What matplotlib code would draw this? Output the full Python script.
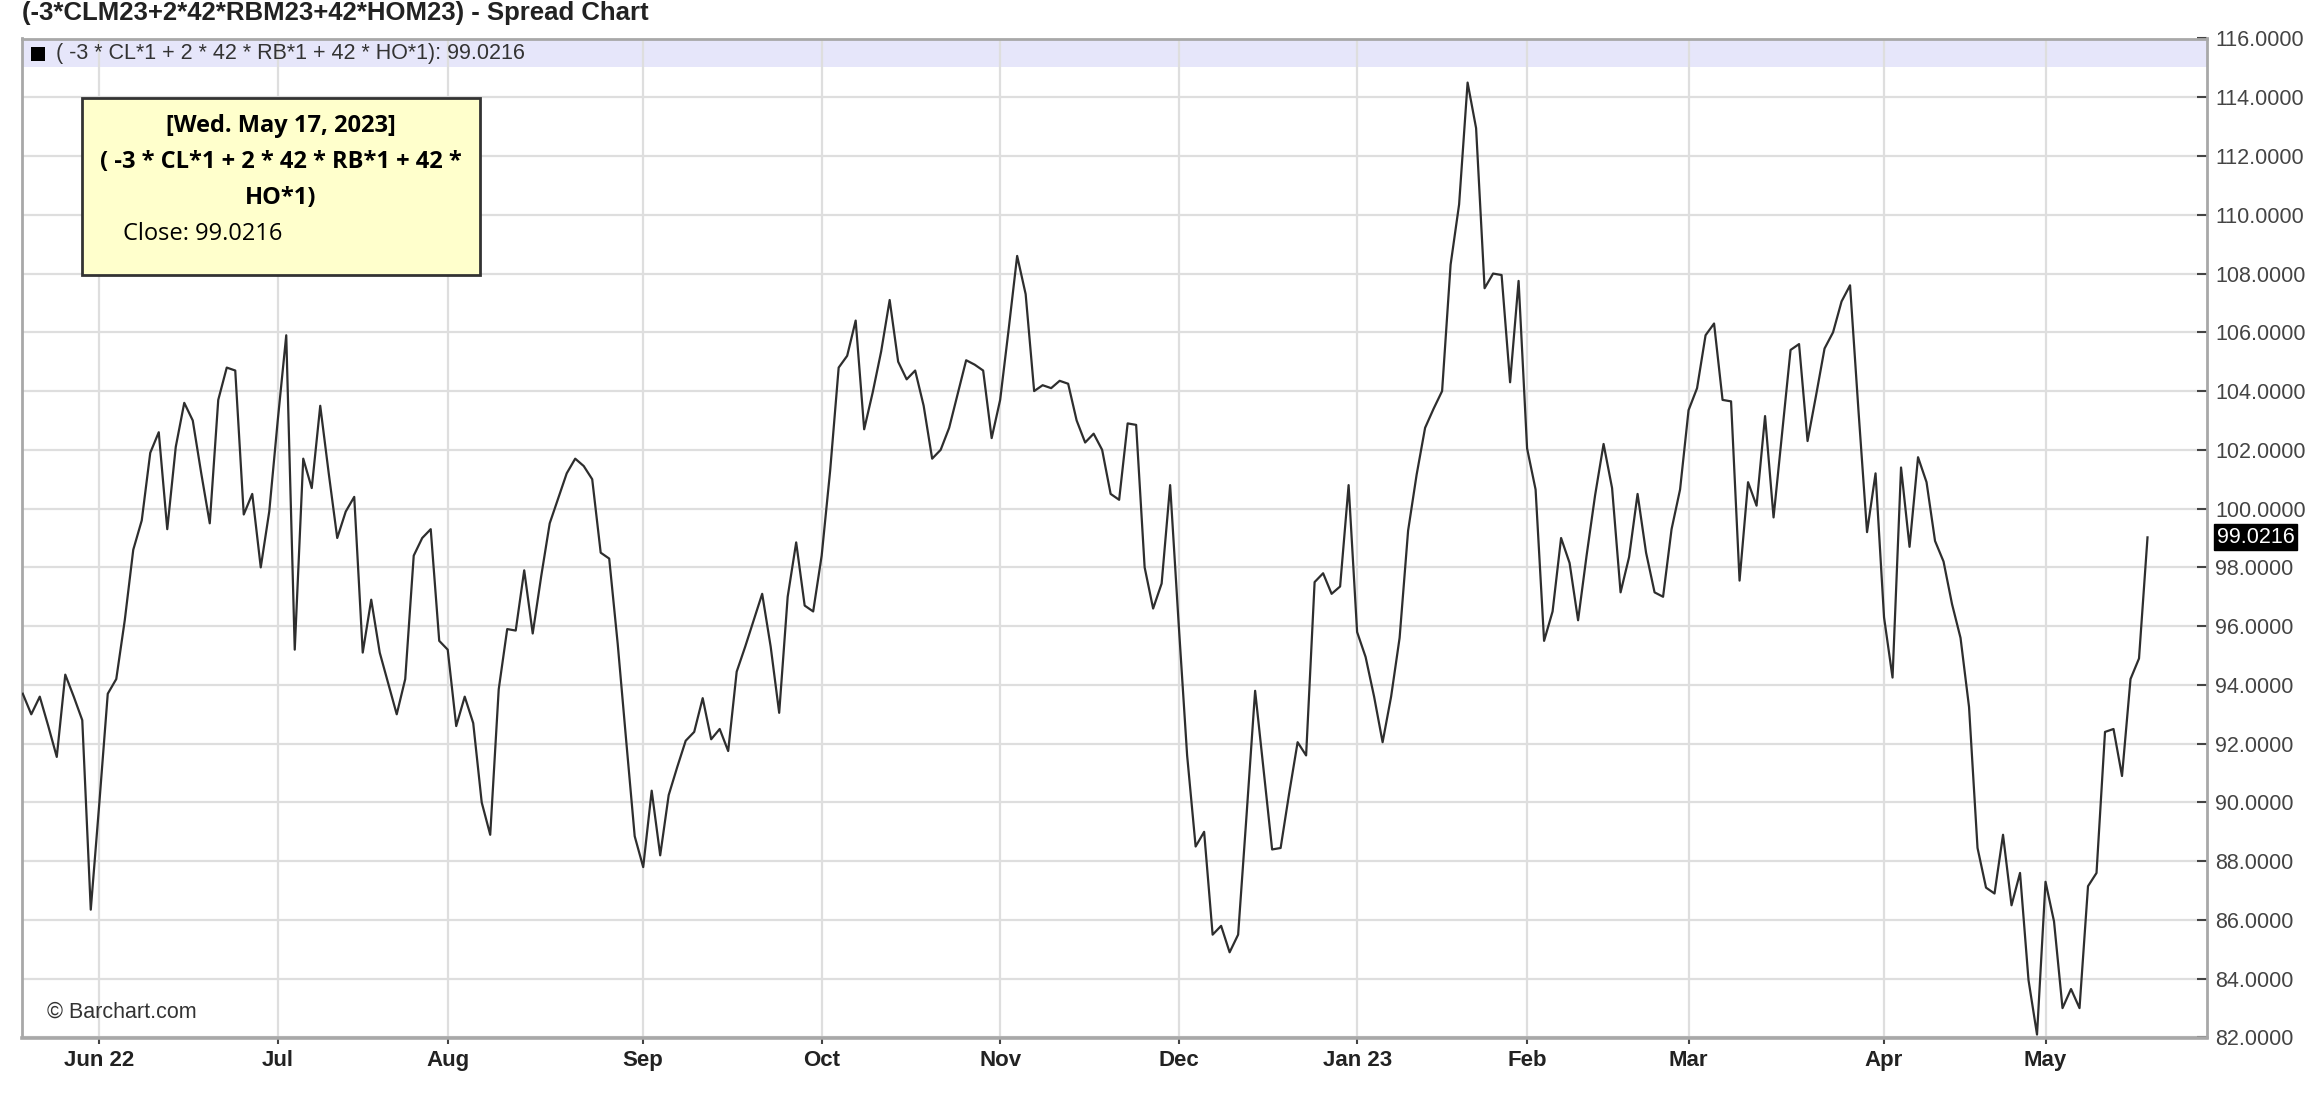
import numpy as np
import pandas as pd
import matplotlib
matplotlib.use("Agg")
import matplotlib.pyplot as plt
from matplotlib.patches import Rectangle
import matplotlib.transforms as mtransforms

plt.rcParams['font.family'] = ['Liberation Sans', 'DejaVu Sans']

# daily closes of the spread, one list per month
may22 = [93.7, 93.0, 93.6, 92.6, 91.55, 94.35, 93.6, 92.8, 86.35]
jun22 = [89.95, 93.7, 94.2, 96.2, 98.6, 99.6, 101.9, 102.6, 99.3, 102.1, 103.6,
         103.0, 101.2, 99.5, 103.7, 104.8, 104.7, 99.8, 100.5, 98.0, 99.9]
jul22 = [103.0, 105.9, 95.2, 101.7, 100.7, 103.5, 101.2, 99.0, 99.9, 100.4,
         95.1, 96.9, 95.1, 94.05, 93.0, 94.2, 98.4, 99.0, 99.3, 95.5]
aug22 = [95.2, 92.6, 93.6, 92.7, 90.0, 88.9, 93.85, 95.9, 95.85, 97.9, 95.75, 97.7,
         99.5, 100.35, 101.2, 101.7, 101.45, 101.0, 98.5, 98.3, 95.4, 92.1, 88.85]
sep22 = [87.8, 90.4, 88.2, 90.25, 91.2, 92.1, 92.4, 93.55, 92.15, 92.5, 91.75,
         94.45, 95.3, 96.2, 97.1, 95.3, 93.05, 97.0, 98.85, 96.7, 96.5]
oct22 = [98.4, 101.3, 104.8, 105.2, 106.4, 102.7, 103.95, 105.35, 107.1, 105.0, 104.4,
         104.7, 103.5, 101.7, 102.0, 102.75, 103.9, 105.05, 104.9, 104.7, 102.4]
nov22 = [103.7, 106.1, 108.6, 107.3, 104.0, 104.2, 104.1, 104.35, 104.25, 103.0, 102.25,
         102.55, 102.0, 100.5, 100.3, 102.9, 102.85, 98.0, 96.6, 97.45, 100.8]
dec22 = [96.1, 91.6, 88.5, 89.0, 85.5, 85.8, 84.9, 85.5, 89.6, 93.8, 91.1,
         88.4, 88.45, 90.3, 92.05, 91.6, 97.5, 97.8, 97.1, 97.35, 100.8]
jan23 = [95.8, 94.95, 93.6, 92.05, 93.6, 95.6, 99.25, 101.15, 102.75, 103.4,
         104.0, 108.3, 110.35, 114.5, 112.95, 107.5, 108.0, 107.95, 104.3, 107.75]
feb23 = [102.05, 100.65, 95.5, 96.5, 99.0, 98.15, 96.2, 98.4, 100.45, 102.2,
         100.7, 97.15, 98.35, 100.5, 98.5, 97.15, 97.0, 99.3, 100.65]
mar23 = [103.35, 104.1, 105.9, 106.3, 103.7, 103.65, 97.55, 100.9, 100.1, 103.15, 99.7, 102.55,
         105.4, 105.6, 102.3, 103.85, 105.45, 106.0, 107.05, 107.6, 103.3, 99.2, 101.2]
apr23 = [96.3, 94.25, 101.4, 98.7, 101.75, 100.9, 98.9, 98.2, 96.75, 95.6,
         93.25, 88.45, 87.1, 86.9, 88.9, 86.5, 87.6, 83.95, 82.1]
may23 = [87.3, 85.95, 83.0, 83.65, 83.0, 87.15, 87.6, 92.4, 92.5, 90.9, 94.2, 94.9, 99.0216]

holidays = ['2022-05-30', '2022-06-20', '2022-07-04', '2022-09-05', '2022-11-24',
            '2022-12-26', '2023-01-02', '2023-01-16', '2023-02-20', '2023-04-07']

title = "(-3*CLM23+2*42*RBM23+42*HOM23) - Spread Chart"
legend_label = "( -3 * CL*1 + 2 * 42 * RB*1 + 42 * HO*1)"

closes = may22 + jun22 + jul22 + aug22 + sep22 + oct22 + nov22 + dec22 + jan23 + feb23 + mar23 + apr23 + may23
dates = pd.bdate_range('2022-05-18', '2023-05-17', freq='C', holidays=holidays)
dates = dates[:len(closes)]
x = np.arange(len(closes))

# first trading day of every month -> ticks
tick_pos, tick_lab = [], []
for i in range(1, len(dates)):
    if dates[i].month != dates[i - 1].month:
        tick_pos.append(i)
        lab = dates[i].strftime('%b')
        if not tick_lab or dates[i].month == 1:
            lab += dates[i].strftime(' %y')
        tick_lab.append(lab)

W, H = 2324, 1096
fig = plt.figure(figsize=(W / 100, H / 100), dpi=100)
L, R, T, B = 21.5, 2207, 38.5, 1037.5
ax = fig.add_axes([L / W, 1 - B / H, (R - L) / W, (B - T) / H])

ax.plot(x, closes, color='#2e2e2e', lw=1.6, zorder=3)
ax.set_xlim(-0.15, 257)
ax.set_ylim(82, 116)

ax.set_axisbelow(True)
ax.grid(True, color='#dedede', lw=1.6)
ax.axhspan(115.03, 116, color='#e6e6fa', zorder=0.2, lw=0)

for s in ax.spines.values():
    s.set_color('#a8a8a8')
    s.set_linewidth(2)
ax.spines['bottom'].set_linewidth(2.6)

ax.yaxis.tick_right()
ax.set_yticks(np.arange(82, 117, 2))
ax.set_yticklabels([f"{v:.4f}" for v in np.arange(82, 117, 2)])
ax.tick_params(axis='y', direction='in', length=7.2, width=1.5, color='#444444',
               labelsize=15.5, labelcolor='#444444', pad=6)
ax.set_xticks(tick_pos)
ax.set_xticklabels(tick_lab, fontweight='bold')
ax.tick_params(axis='x', direction='out', length=4, width=1.5, color='#444444',
               labelsize=16, labelcolor='#222222', pad=5)

# last value tag on the price axis
trans = mtransforms.blended_transform_factory(ax.transAxes, ax.transData)
ax.text(1.0045, closes[-1], f"{closes[-1]:.4f}", transform=trans, ha='left', va='center',
        fontsize=15.5, color='white', clip_on=False,
        bbox=dict(boxstyle='square,pad=0.12', fc='black', ec='black'))

# header texts
fig.text(22 / W, 1 - 13 / H, title, fontsize=18.5, fontweight='bold', color='#222222',
         ha='left', va='center')
fig.add_artist(Rectangle((31 / W, 1 - 61 / H), 14 / W, 14 / H, transform=fig.transFigure,
                         fc='black', ec='none', zorder=4))
fig.text(56 / W, 1 - 53 / H, f"{legend_label}: {closes[-1]:.4f}", fontsize=15.5,
         color='#333333', ha='left', va='center')
fig.text(47 / W, 1 - 1012 / H, "\u00A9 Barchart.com", fontsize=15.5, color='#333333',
         ha='left', va='center')

# tooltip box
bx0, by0, bx1, by1 = 82, 98, 480, 275
fig.add_artist(Rectangle((bx0 / W, 1 - by1 / H), (bx1 - bx0) / W, (by1 - by0) / H,
                         transform=fig.transFigure, fc='#ffffcc', ec='#333333', lw=2, zorder=5))
tip_font = ['Open Sans', 'DejaVu Sans']
cx = (bx0 + bx1) / 2 / W
fig.text(cx, 1 - 126 / H, "[" + dates[-1].strftime('%a. %b %d, %Y') + "]", family=tip_font,
         fontsize=17, fontweight='bold', ha='center', va='center', zorder=6)
fig.text(cx, 1 - 162 / H, "( -3 * CL*1 + 2 * 42 * RB*1 + 42 *", family=tip_font,
         fontsize=17, fontweight='bold', ha='center', va='center', zorder=6)
fig.text(cx, 1 - 198 / H, "HO*1)", family=tip_font,
         fontsize=17, fontweight='bold', ha='center', va='center', zorder=6)
fig.text(123 / W, 1 - 234 / H, f"Close: {closes[-1]:.4f}", family=tip_font,
         fontsize=17, ha='left', va='center', zorder=6)

fig.savefig('out.png', dpi=100, facecolor='white')
